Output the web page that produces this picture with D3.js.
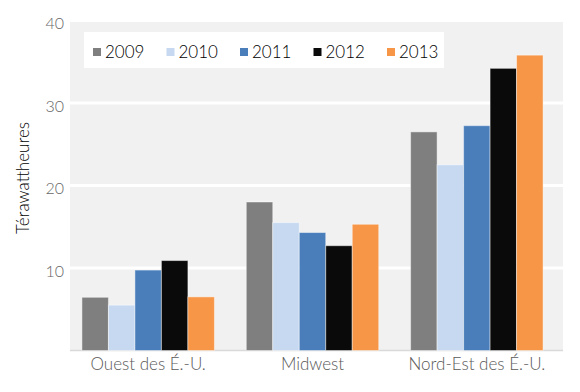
<!DOCTYPE html>
<html><head><meta charset="utf-8">
<script src="https://cdn.jsdelivr.net/npm/d3@7"></script>
<style>body{margin:0;background:#fff;} svg{display:block;font-family:Lato,"Open Sans",sans-serif;font-weight:300;}</style>
</head><body>
<svg id="c" width="580" height="392"></svg>
<script>
const categories = ["Ouest des É.-U.", "Midwest", "Nord-Est des É.-U."];
const years = ["2009", "2010", "2011", "2012", "2013"];
const v2009 = [6.45, 18.0, 26.5];
const v2010 = [5.5, 15.5, 22.5];
const v2011 = [9.75, 14.3, 27.25];
const v2012 = [10.9, 12.7, 34.2];
const v2013 = [6.5, 15.3, 35.8];
const yTicks = [10, 20, 30, 40];
const colors = ["#7f7f7f", "#c6d9f1", "#4a7ebb", "#0a0a0a", "#f79646"];
const yTitle = "Térawattheures";

const series = [v2009, v2010, v2011, v2012, v2013];
const svg = d3.select("#c");
const y = d3.scaleLinear().domain([0, 40]).range([350.5, 20.5]);
const x0 = d3.scaleBand().domain(categories).range([66, 559]).paddingInner(0.194).paddingOuter(0.097);
const x1 = d3.scaleBand().domain(years).range([0, x0.bandwidth()]);

// background
svg.append("rect").attr("x", 70).attr("y", 21).attr("width", 493).attr("height", 329.5).attr("fill", "#f1f1f1");
// gridlines
svg.append("g").selectAll("line").data([10,20,30,40]).join("line")
  .attr("x1", 70).attr("x2", 563).attr("y1", d => y(d)).attr("y2", d => y(d))
  .attr("stroke", "#fff").attr("stroke-width", 3);
svg.append("line").attr("x1", 70).attr("x2", 563).attr("y1", y(0)).attr("y2", y(0))
  .attr("stroke", "#d9d9d9").attr("stroke-width", 1.5);

// y axis
const yAxis = d3.axisLeft(y).tickValues(yTicks).tickSize(0).tickPadding(0);
const ya = svg.append("g").attr("transform", "translate(64,0)").call(yAxis);
ya.select(".domain").remove();
ya.selectAll("text").attr("font-size", 16).attr("fill", "#666").attr("font-family", "Lato").attr("font-weight", 300).attr("dy", "0.5em");

// bars
const g = svg.append("g");
categories.forEach((c, ci) => {
  years.forEach((yr, si) => {
    g.append("rect")
      .attr("x", x0(c) + x1(yr))
      .attr("y", y(series[si][ci]))
      .attr("width", x1.bandwidth())
      .attr("height", y(0) - y(series[si][ci]))
      .attr("fill", colors[si])
      .attr("stroke", "rgba(255,255,255,0.45)").attr("stroke-width", 1);
  });
});

// x axis labels
const xAxis = d3.axisBottom(x0).tickSize(0).tickPadding(0);
const xa = svg.append("g").attr("transform", "translate(0,358)").call(xAxis);
xa.select(".domain").remove();
xa.selectAll("text").attr("font-size", 17).attr("fill", "#595959").attr("font-family", "Lato").attr("font-weight", 300);

// y title
svg.append("text").attr("transform", "translate(29,178) rotate(-90)")
  .attr("text-anchor", "middle").attr("font-size", 17).attr("font-weight", 300).attr("fill", "#000").text(yTitle);

// legend
svg.append("rect").attr("x", 84).attr("y", 32).attr("width", 360).attr("height", 36).attr("fill", "#fff");
const lg = svg.append("g").selectAll("g").data(years).join("g")
  .attr("transform", (d, i) => `translate(${93 + i * 73.5},48)`);
lg.append("rect").attr("width", 8).attr("height", 8).attr("fill", (d, i) => colors[i]);
lg.append("text").attr("x", 12).attr("y", 4).attr("dy", "0.36em").attr("font-size", 17).attr("font-weight", 300).attr("fill", "#000").text(d => d);
</script>
</body></html>
